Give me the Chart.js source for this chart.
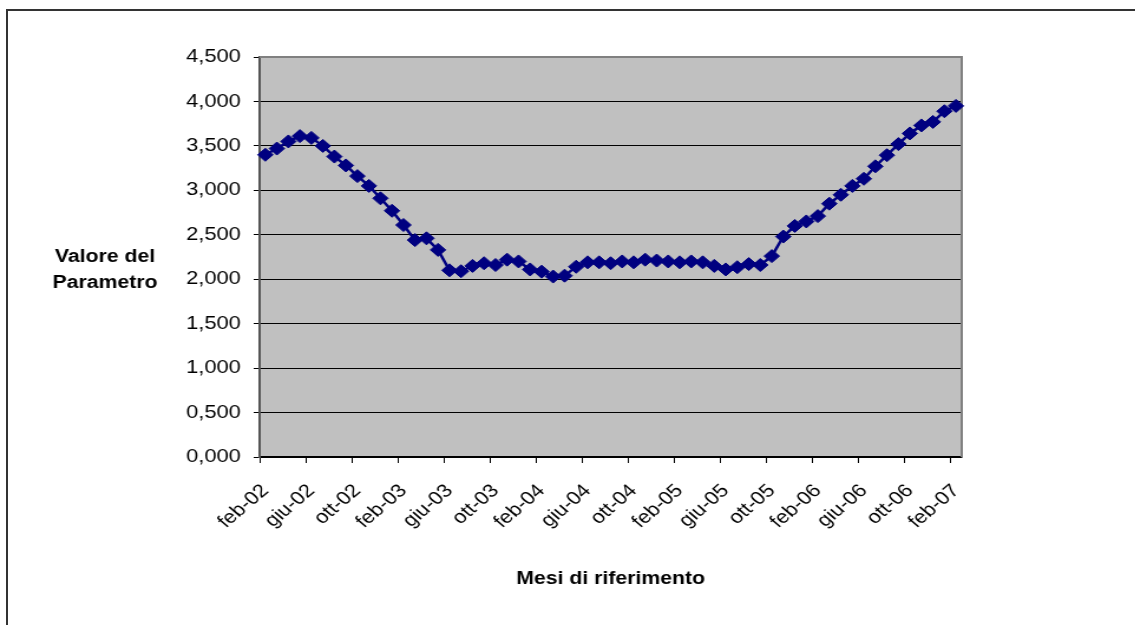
<!DOCTYPE html>
<html>
<head>
<meta charset="utf-8">
<script src="https://cdn.jsdelivr.net/npm/chart.js@4.4.1/dist/chart.umd.min.js"></script>
<style>
  html, body { margin: 0; padding: 0; background: #fff; overflow: hidden; }
  body { width: 1135px; height: 625px; position: relative; }
  #frame { position: absolute; left: 6px; top: 9px; width: 1200px; height: 700px; border-top: 2px solid #333; border-left: 2px solid #333; }
  #wrap { position: absolute; left: 0; top: 0; width: 962px; height: 625px; transform: scaleX(1.18); transform-origin: 0 0; }
</style>
</head>
<body>
<div id="frame"></div>
<div id="wrap"><canvas id="chart" width="962" height="625"></canvas></div>
<script>
// Mesi (feb-02 .. feb-07)
const mesi = [
  'feb-02', 'mar-02', 'apr-02', 'mag-02', 'giu-02', 'lug-02', 'ago-02', 'set-02', 'ott-02', 'nov-02', 'dic-02',
  'gen-03', 'feb-03', 'mar-03', 'apr-03', 'mag-03', 'giu-03', 'lug-03', 'ago-03', 'set-03', 'ott-03', 'nov-03', 'dic-03',
  'gen-04', 'feb-04', 'mar-04', 'apr-04', 'mag-04', 'giu-04', 'lug-04', 'ago-04', 'set-04', 'ott-04', 'nov-04', 'dic-04',
  'gen-05', 'feb-05', 'mar-05', 'apr-05', 'mag-05', 'giu-05', 'lug-05', 'ago-05', 'set-05', 'ott-05', 'nov-05', 'dic-05',
  'gen-06', 'feb-06', 'mar-06', 'apr-06', 'mag-06', 'giu-06', 'lug-06', 'ago-06', 'set-06', 'ott-06', 'nov-06', 'dic-06',
  'gen-07', 'feb-07'
];

// Valore del parametro per mese
const valori = [
  3.40, 3.47, 3.55, 3.61, 3.59, 3.50, 3.38, 3.28, 3.16, 3.05, 2.91,
  2.77, 2.61, 2.44, 2.46, 2.33, 2.10, 2.09, 2.15, 2.18, 2.16, 2.22, 2.20,
  2.11, 2.085, 2.03, 2.04, 2.14, 2.19, 2.19, 2.18, 2.20, 2.19, 2.22, 2.21,
  2.20, 2.19, 2.20, 2.19, 2.15, 2.11, 2.135, 2.17, 2.16, 2.26, 2.48, 2.60,
  2.65, 2.71, 2.85, 2.95, 3.05, 3.13, 3.27, 3.395, 3.52, 3.64, 3.73, 3.77,
  3.89, 3.95
];

const yMin = 0;
const yMax = 4.5;
const yStep = 0.5;
const labelEvery = 4;

const FONT = '"Liberation Sans", Arial, sans-serif';

function formatValore(v) {
  return v.toFixed(3).replace('.', ',');
}

// gray plot area, frame and the two axis titles
const plotFrame = {
  id: 'plotFrame',
  beforeDraw(chart) {
    const { ctx, chartArea: a } = chart;
    ctx.save();
    ctx.fillStyle = '#c0c0c0';
    ctx.fillRect(a.left, a.top, a.right - a.left, a.bottom - a.top);
    ctx.restore();
  },
  beforeDatasetsDraw(chart) {
    const { ctx, chartArea: a } = chart;
    ctx.save();
    ctx.strokeStyle = '#808080';
    ctx.lineWidth = 2;
    ctx.beginPath();
    ctx.moveTo(a.left, a.top);
    ctx.lineTo(a.right, a.top);
    ctx.lineTo(a.right, a.bottom);
    ctx.stroke();
    ctx.restore();
  },
  afterDraw(chart) {
    const { ctx, chartArea: a } = chart;
    ctx.save();
    ctx.fillStyle = '#000';
    ctx.font = 'bold 18px ' + FONT;
    ctx.textAlign = 'center';
    ctx.textBaseline = 'alphabetic';
    ctx.fillText('Valore del', 89, 262);
    ctx.fillText('Parametro', 89, 288);
    ctx.fillText('Mesi di riferimento', (a.left + a.right) / 2, 584);
    ctx.restore();
  }
};

const ctx = document.getElementById('chart').getContext('2d');
new Chart(ctx, {
  type: 'line',
  data: {
    labels: mesi,
    datasets: [{
      data: valori,
      borderColor: '#000080',
      backgroundColor: '#000080',
      borderWidth: 2.5,
      pointStyle: 'rectRot',
      pointRadius: 6.5,
      pointBorderWidth: 1,
      pointBackgroundColor: '#000080',
      pointBorderColor: '#000080',
      tension: 0,
      clip: false
    }]
  },
  options: {
    responsive: false,
    animation: false,
    devicePixelRatio: 1,
    layout: { padding: { top: 57, right: 147, bottom: 0, left: 0 } },
    plugins: {
      legend: { display: false },
      tooltip: { enabled: false }
    },
    scales: {
      x: {
        type: 'category',
        offset: true,
        grid: {
          offset: true,
          drawOnChartArea: false,
          drawTicks: true,
          tickLength: 6,
          color: c => (c.type === 'tick' && c.index % labelEvery === 0) ? '#000' : 'rgba(0,0,0,0)'
        },
        border: { display: true, color: '#000', width: 1.5 },
        ticks: {
          autoSkip: false,
          maxRotation: 45,
          minRotation: 45,
          padding: 17,
          color: '#000',
          font: { family: FONT, size: 18.5 },
          callback: function (v, i) {
            return i % labelEvery === 0 ? this.getLabelForValue(v) : '';
          }
        },
        afterFit: s => { s.height = 168; }
      },
      y: {
        min: yMin,
        max: yMax,
        grid: { color: '#000', lineWidth: 1, tickLength: 5, drawTicks: true },
        border: { display: true, color: '#555', width: 2 },
        ticks: {
          stepSize: yStep,
          padding: 11,
          color: '#000',
          font: { family: FONT, size: 18.5 },
          callback: v => formatValore(v)
        },
        afterFit: s => { s.width = 220; }
      }
    }
  },
  plugins: [plotFrame]
});
</script>
</body>
</html>
